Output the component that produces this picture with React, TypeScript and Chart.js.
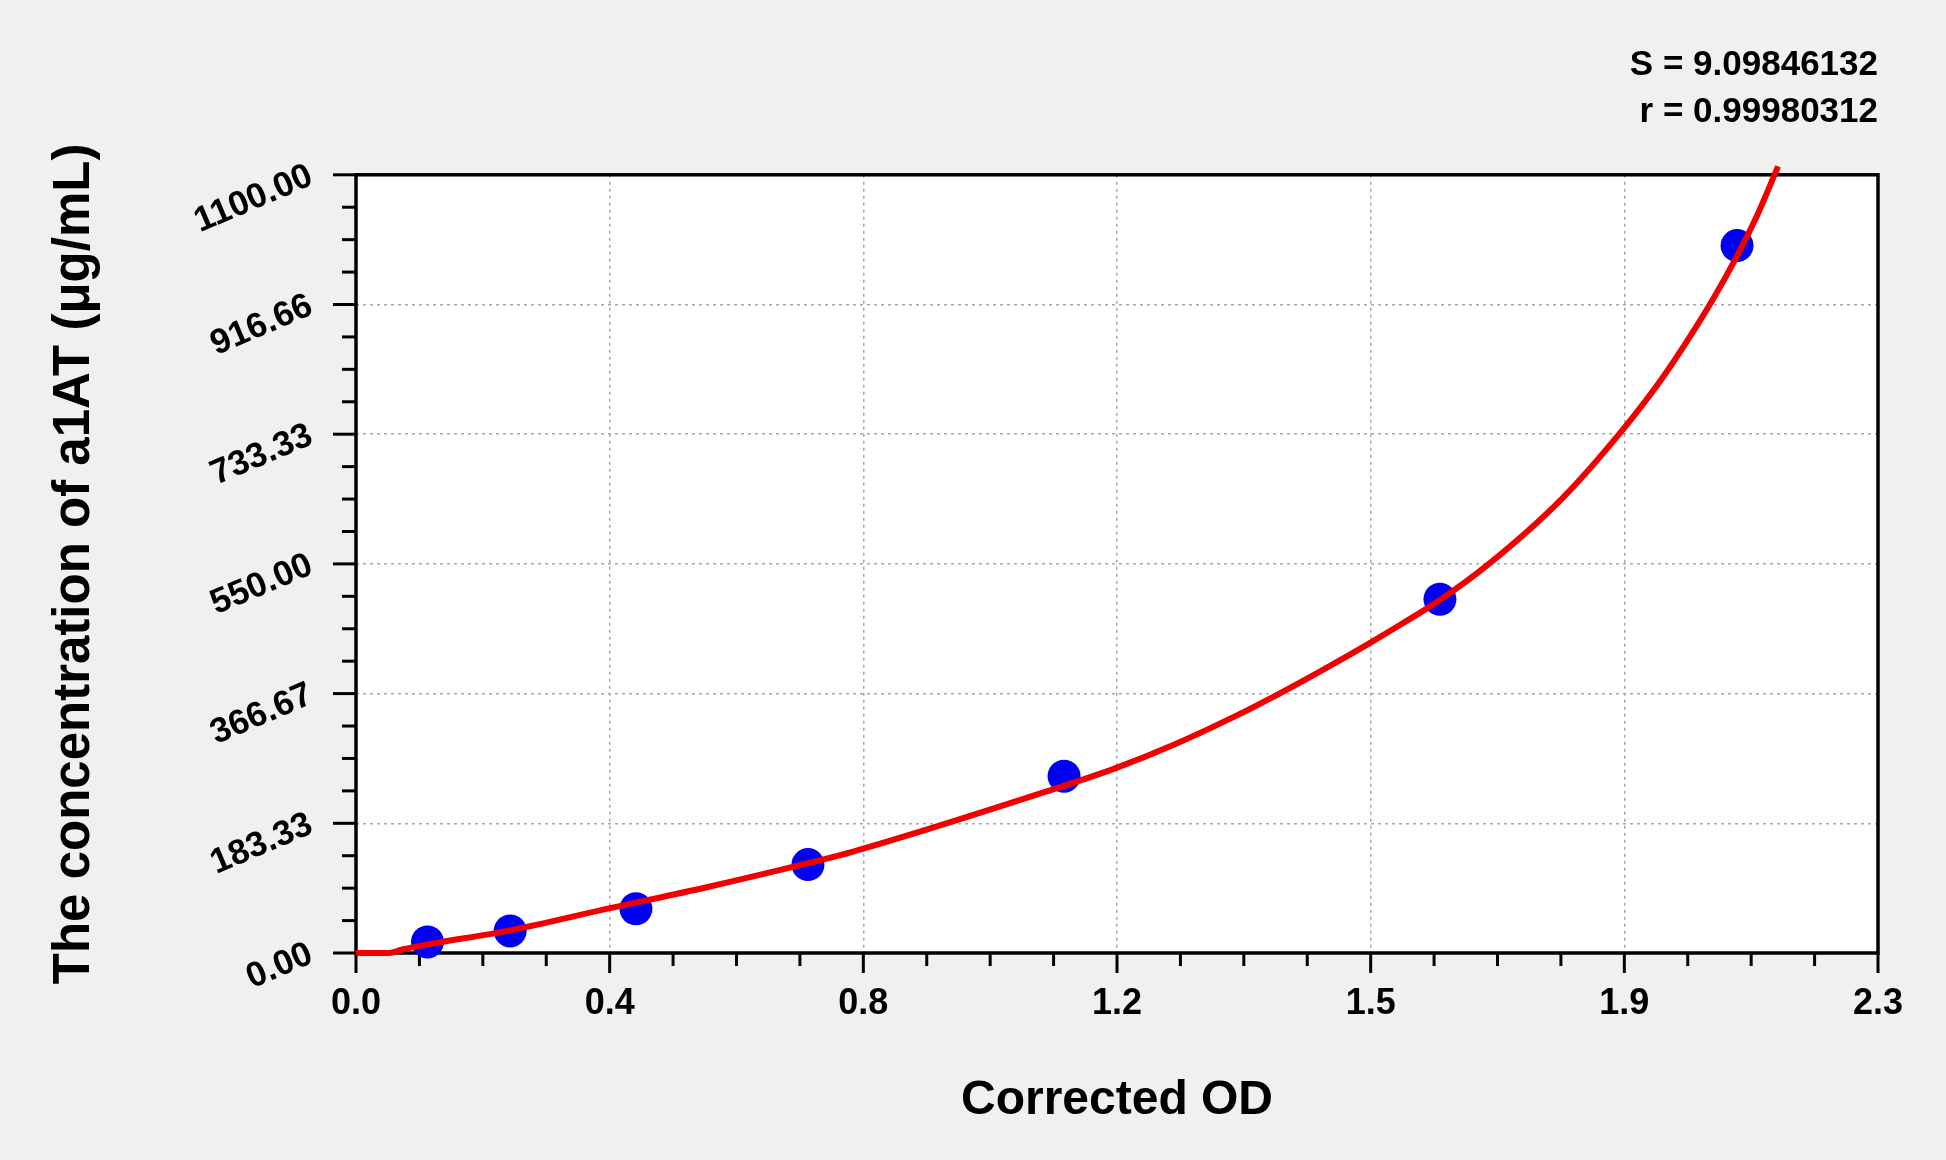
import { useEffect, useRef } from "react";
import { Chart, ChartConfiguration, registerables } from "chart.js";

Chart.register(...registerables);

// standard points
const standardOD = [0.108, 0.233, 0.423, 0.683, 1.07, 1.638, 2.087];
const standardConc = [15.63, 31.25, 62.5, 125, 250, 500, 1000];

// fitted curve
const curveOD = [0, 0.05, 0.07, 0.108, 0.233, 0.382, 0.53, 0.683, 0.75, 1.049, 1.147, 1.235, 1.325, 1.394, 1.474, 1.53, 1.58, 1.638, 1.712, 1.821, 1.911, 1.972, 2.017, 2.053, 2.085, 2.118, 2.149];
const curveConc = [0, 0, 5, 12, 32, 63, 93, 127, 143, 230, 261, 294, 333, 366, 407, 437, 465, 499, 550, 641, 736, 810, 873, 928, 982, 1044, 1112];

const xTickLabels = ["0.0", "0.4", "0.8", "1.2", "1.5", "1.9", "2.3"];
const yTickLabels = ["0.00", "183.33", "366.67", "550.00", "733.33", "916.66", "1100.00"];
const statsLines = ["S = 9.09846132", "r = 0.99980312"];

const X_MAX = 2.3;
const Y_MAX = 1100;
const FONT = "'Liberation Sans', Arial, sans-serif";

const majorValues = (max: number, n: number) =>
  Array.from({ length: n }, (_, i) => (i * max) / (n - 1));

// frame + major/minor tick marks, drawn under the data
const framePlugin = {
  id: "frame",
  beforeDraw(chart: Chart) {
    const { ctx, chartArea: a } = chart;
    ctx.save();
    ctx.fillStyle = "#ffffff";
    ctx.fillRect(a.left, a.top, a.right - a.left, a.bottom - a.top);
    ctx.restore();
  },
  beforeDatasetsDraw(chart: Chart) {
    const { ctx, chartArea: a, scales } = chart;
    const xs = scales.x;
    const ys = scales.y;
    ctx.save();
    ctx.strokeStyle = "#000";
    ctx.lineWidth = 3;
    const xStep = X_MAX / (xTickLabels.length - 1) / 4;
    for (let i = 0; i <= (xTickLabels.length - 1) * 4; i++) {
      const px = xs.getPixelForValue(i * xStep);
      const len = i % 4 === 0 ? 20 : 13;
      ctx.beginPath();
      ctx.moveTo(px, a.bottom);
      ctx.lineTo(px, a.bottom + len);
      ctx.stroke();
    }
    const yStep = Y_MAX / (yTickLabels.length - 1) / 4;
    for (let i = 0; i <= (yTickLabels.length - 1) * 4; i++) {
      const py = ys.getPixelForValue(i * yStep);
      const len = i % 4 === 0 ? 23 : 14;
      ctx.beginPath();
      ctx.moveTo(a.left, py);
      ctx.lineTo(a.left - len, py);
      ctx.stroke();
    }
    ctx.lineWidth = 3.5;
    ctx.strokeRect(a.left, a.top, a.right - a.left, a.bottom - a.top);
    ctx.restore();
  },
};

export default function App() {
  const chartRef = useRef<HTMLCanvasElement>(null);
  const chartInstance = useRef<Chart | null>(null);

  useEffect(() => {
    if (!chartRef.current) return;
    const ctx = chartRef.current.getContext("2d");
    if (!ctx) return;

    if (chartInstance.current) {
      chartInstance.current.destroy();
    }

    const gridColor = (c: any, n: number) =>
      c.index === 0 || c.index === n - 1 ? "rgba(0,0,0,0)" : "#a6a6a6";

    const config: ChartConfiguration = {
      type: "scatter",
      data: {
        datasets: [
          {
            label: "fit",
            data: curveOD.map((x, i) => ({ x, y: curveConc[i] })),
            showLine: true,
            borderColor: "#f00000",
            borderWidth: 6,
            pointRadius: 0,
            cubicInterpolationMode: "monotone",
            clip: false,
            order: 0,
          },
          {
            label: "standards",
            data: standardOD.map((x, i) => ({ x, y: standardConc[i] })),
            backgroundColor: "#0000f0",
            borderWidth: 0,
            pointRadius: 16.5,
            clip: false,
            order: 1,
          },
        ],
      } as any,
      options: {
        responsive: true,
        maintainAspectRatio: false,
        animation: false,
        layout: { padding: { left: 0, right: 68, top: 0, bottom: 0 } },
        plugins: {
          legend: { display: false },
          tooltip: { enabled: false },
          title: {
            display: true,
            text: statsLines,
            align: "end",
            color: "#000",
            font: { family: FONT, size: 35, weight: "bold", lineHeight: 1.34 },
            padding: { top: 42, bottom: 39 },
          },
        },
        scales: {
          x: {
            type: "linear",
            min: 0,
            max: X_MAX,
            afterBuildTicks: (s: any) => {
              s.ticks = majorValues(X_MAX, xTickLabels.length).map((value) => ({ value }));
            },
            afterFit: (s: any) => {
              s.height = 207;
            },
            ticks: {
              autoSkip: false,
              minRotation: 0,
              maxRotation: 0,
              padding: 29,
              color: "#000",
              font: { family: FONT, size: 36, weight: "bold" },
              callback: (_v: any, i: number) => xTickLabels[i],
            },
            grid: {
              drawTicks: false,
              lineWidth: 1.5,
              color: (c: any) => gridColor(c, xTickLabels.length),
            },
            border: { display: false, dash: [3, 4] },
            title: {
              display: true,
              text: "Corrected OD",
              color: "#000",
              font: { family: FONT, size: 48, weight: "bold" },
              padding: { top: 0, bottom: 30 },
            },
          },
          y: {
            type: "linear",
            min: 0,
            max: Y_MAX,
            afterBuildTicks: (s: any) => {
              s.ticks = majorValues(Y_MAX, yTickLabels.length).map((value) => ({ value }));
            },
            afterFit: (s: any) => {
              s.width = 356;
            },
            ticks: {
              autoSkip: false,
              minRotation: 23,
              maxRotation: 23,
              padding: 45,
              color: "#000",
              font: { family: FONT, size: 35, weight: "bold" },
              callback: (_v: any, i: number) => yTickLabels[i],
            },
            grid: {
              drawTicks: false,
              lineWidth: 1.5,
              color: (c: any) => gridColor(c, yTickLabels.length),
            },
            border: { display: false, dash: [3, 4] },
            title: {
              display: true,
              text: "The concentration of a1AT (μg/mL)",
              color: "#000",
              font: { family: FONT, size: 51, weight: "bold" },
              padding: { top: 44, bottom: 0 },
            },
          },
        },
      },
      plugins: [framePlugin],
    };

    chartInstance.current = new Chart(ctx, config);

    return () => {
      if (chartInstance.current) {
        chartInstance.current.destroy();
        chartInstance.current = null;
      }
    };
  }, []);

  return (
    <div
      style={{
        position: "absolute",
        left: 0,
        top: 0,
        width: 1946,
        height: 1160,
        background: "#f0f0f0",
      }}
    >
      <canvas ref={chartRef}></canvas>
    </div>
  );
}
